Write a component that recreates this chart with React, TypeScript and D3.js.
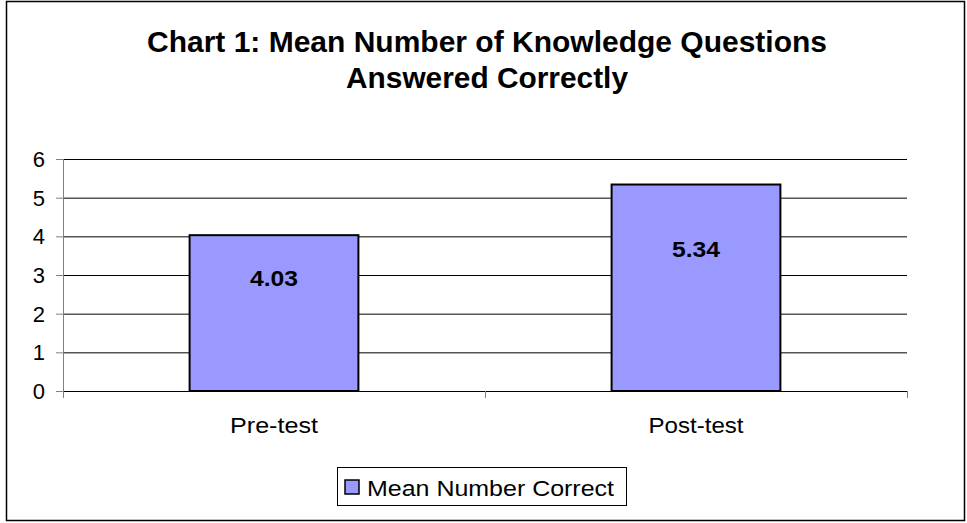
import React from "react";
import * as d3 from "d3";

const categories = ["Pre-test", "Post-test"];
const values = [4.03, 5.34];
const yTicks = [0, 1, 2, 3, 4, 5, 6];
const titleLines = ["Chart 1: Mean Number of Knowledge Questions", "Answered Correctly"];
const seriesName = "Mean Number Correct";

export default function App() {
  const W = 967, H = 523;
  const left = 63, right = 907, top = 159, bottom = 391;
  const x = d3.scaleBand<string>().domain(categories).range([left, right]).paddingInner(0.6).paddingOuter(0.3);
  const xb = d3.scaleBand<string>().domain(categories).range([left, right]);
  const y = d3.scaleLinear().domain([0, 6]).range([bottom, top]);
  const labelDy = [51, 72];
  const titleLen = [680, 282];
  const catLen = [88, 95];
  const font = "Arial, 'Liberation Sans', sans-serif";
  return (
    <svg width={W} height={H} style={{ position: "absolute", left: 0, top: 0 }} fontFamily={font}>
      <rect x={0} y={0} width={W} height={H} fill="white" />
      <rect x={6.5} y={1.5} width={958} height={519} fill="white" stroke="#000" strokeWidth={1.5} />
      {titleLines.map((t, i) => (
        <text key={i} x={487} y={52 + i * 36} textAnchor="middle" fontSize={29} fontWeight="bold"
          textLength={titleLen[i]} lengthAdjust="spacingAndGlyphs">{t}</text>
      ))}
      {yTicks.map((t) => (
        <g key={t}>
          <line x1={left} x2={right} y1={y(t) + 0.5} y2={y(t) + 0.5} stroke="#000" strokeWidth={1} />
          <line x1={left - 7} x2={left} y1={y(t) + 0.5} y2={y(t) + 0.5} stroke="#808080" />
          <text x={45} y={y(t) + 8} textAnchor="end" fontSize={22}>{t}</text>
        </g>
      ))}
      <line x1={left + 0.5} x2={left + 0.5} y1={top} y2={bottom} stroke="#808080" />
      {[...categories.map((c) => xb(c)!), right].map((px, i) => (
        <line key={i} x1={px + 0.5} x2={px + 0.5} y1={bottom} y2={bottom + 7} stroke="#808080" />
      ))}
      {categories.map((c, i) => (
        <g key={c}>
          <rect x={x(c)!} y={y(values[i])} width={x.bandwidth()} height={bottom - y(values[i])} fill="#9999FF" stroke="#000" strokeWidth={2} />
          <text x={x(c)! + x.bandwidth() / 2} y={y(values[i]) + labelDy[i]} textAnchor="middle" fontSize={22} fontWeight="bold"
            textLength={48} lengthAdjust="spacingAndGlyphs">{values[i].toFixed(2)}</text>
          <text x={xb(c)! + xb.bandwidth() / 2} y={433} textAnchor="middle" fontSize={22}
            textLength={catLen[i]} lengthAdjust="spacingAndGlyphs">{c}</text>
        </g>
      ))}
      <rect x={337.5} y={467.5} width={289} height={38} fill="white" stroke="#000" strokeWidth={1} />
      <rect x={345} y={480} width={14} height={14} fill="#9999FF" stroke="#000" strokeWidth={1.5} />
      <text x={367} y={496} fontSize={22} textLength={247} lengthAdjust="spacingAndGlyphs">{seriesName}</text>
    </svg>
  );
}
